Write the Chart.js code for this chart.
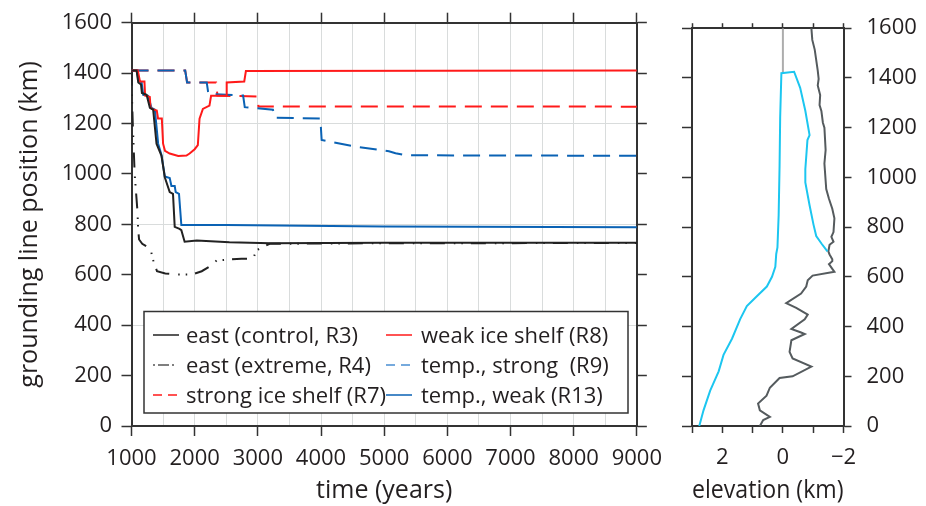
<!DOCTYPE html>
<html>
<head>
<meta charset="utf-8">
<script src="https://cdn.jsdelivr.net/npm/chart.js@4.4.1/dist/chart.umd.min.js"></script>
<style>
  html, body { margin: 0; padding: 0; background: #fff; }
  #wrap { position: relative; width: 926px; height: 506px; overflow: hidden; }
  #mainBox { position: absolute; left: 0; top: 0; }
  #sideBox { position: absolute; left: 672px; top: 0; }
</style>
</head>
<body>
<div id="wrap">
  <div id="mainBox"><canvas id="mainChart" width="672" height="506"></canvas></div>
  <div id="sideBox"><canvas id="sideChart" width="254" height="506"></canvas></div>
</div>
<script>
// ---- left panel: grounding line position (km) vs time (years) ----
const r3Time = [1000, 1080, 1107, 1150, 1165, 1239, 1291, 1343, 1396, 1475, 1527, 1605, 1657, 1684, 1760, 1789, 1841, 2033, 2550, 3200, 5000, 9000];
const r3Pos  = [1410, 1410, 1363, 1355, 1321, 1314, 1262, 1255, 1120, 1072, 987, 928, 921, 790, 782, 777, 731, 736, 729, 725, 727, 727];

const r8Time = [1000, 1100, 1134, 1205, 1215, 1290, 1300, 1320, 1400, 1420, 1480, 1500, 1530, 1605, 1740, 1870, 1920, 2000, 2050, 2077, 2130, 2234, 2260, 2497, 2507, 2785, 2811, 9000];
const r8Pos  = [1410, 1410, 1367, 1367, 1311, 1305, 1265, 1258, 1252, 1220, 1220, 1120, 1092, 1081, 1071, 1073, 1081, 1098, 1114, 1219, 1258, 1271, 1310, 1310, 1363, 1367, 1408, 1410];

const r4Time = [1000, 1008, 1020, 1035, 1050, 1065, 1080, 1095, 1105, 1120, 1170, 1300, 1350, 1404, 1535, 1720, 1955, 2112, 2227, 2348, 2585, 2742, 2925, 2978, 3187, 5000, 9000];
const r4Pos  = [1410, 1300, 1200, 1100, 1000, 950, 900, 850, 780, 740, 723, 703, 651, 614, 605, 601, 601, 614, 631, 657, 661, 664, 664, 697, 723, 725, 726];

const r9Time = [1000, 1850, 1880, 2191, 2217, 2767, 2793, 3239, 3265, 3990, 4010, 4551, 5075, 5180, 5340, 9000];
const r9Pos  = [1410, 1410, 1363, 1363, 1318, 1311, 1265, 1255, 1223, 1220, 1135, 1108, 1090, 1082, 1074, 1072];

const r7Time = [1000, 1850, 1880, 2340, 2360, 2990, 3010, 9000];
const r7Pos  = [1410, 1410, 1363, 1363, 1311, 1307, 1268, 1267];

const r13Time = [1000, 1090, 1107, 1160, 1186, 1264, 1317, 1370, 1422, 1475, 1527, 1605, 1632, 1684, 1700, 1752, 1789, 2500, 5000, 9000];
const r13Pos  = [1410, 1410, 1371, 1363, 1314, 1310, 1262, 1255, 1120, 1075, 990, 984, 952, 952, 928, 921, 797, 797, 791, 788];

// ---- right panel: elevation (km) vs position (km) ----
const iceElev = [2.76, 2.62, 2.40, 2.12, 1.96, 1.68, 1.41, 1.19, 0.86, 0.53, 0.36, 0.25, 0.22, 0.18, 0.14, 0.11, 0.09, 0.05, -0.37, -0.57, -0.74, -0.88, -0.81, -0.74, -0.74, -0.88, -1.01, -1.10, -1.29, -1.47];
const icePos  = [0, 63, 142, 220, 286, 351, 430, 482, 522, 561, 600, 640, 692, 718, 849, 1046, 1242, 1419, 1425, 1360, 1268, 1170, 1150, 1033, 980, 888, 810, 764, 731, 702];

const bedElev = [-0.94, -0.97, -1.05, -1.15, -1.18, -1.15, -1.23, -1.21, -1.27, -1.32, -1.37, -1.41, -1.37, -1.43, -1.52, -1.63, -1.70, -1.67, -1.60, -1.67, -1.54, -1.50, -1.54, -1.63, -1.63, -1.52, -1.70, -0.98, -0.82, -0.77, -0.60, -0.11, -0.44, -0.82, -0.72, -0.28, -0.60, -0.72, -0.28, -0.22, -0.32, -0.94, -0.32, 0.11, 0.43, 0.54, 0.82, 0.76, 0.43, 0.65, 0.76];
const bedPos  = [1600, 1553, 1514, 1429, 1396, 1370, 1331, 1291, 1267, 1220, 1200, 1110, 1056, 953, 914, 874, 835, 780, 761, 741, 729, 702, 690, 671, 663, 651, 620, 605, 586, 561, 533, 494, 475, 448, 429, 390, 376, 370, 345, 298, 272, 239, 200, 193, 154, 122, 90, 63, 37, 24, 0];

const seaElev = [0, 0];
const seaPos  = [1600, 1420];

const INK = '#231f20';
const AXIS = '#333';
const GRID = '#d9dcdc';
Chart.defaults.font.family = "'Open Sans', sans-serif";
Chart.defaults.font.size = 22;
Chart.defaults.color = INK;

const toPoints = (xs, ys) => xs.map((x, i) => ({ x: x, y: ys[i] }));

// legend in a framed box inside the plot, two columns
const boxLegend = {
  id: 'boxLegend',
  afterDatasetsDraw(chart, args, opts) {
    const ctx = chart.ctx;
    ctx.save();
    ctx.fillStyle = '#fff';
    ctx.fillRect(opts.left, opts.top, opts.width, opts.height);
    ctx.strokeStyle = AXIS;
    ctx.lineWidth = 1.5;
    ctx.strokeRect(opts.left, opts.top, opts.width, opts.height);
    ctx.font = "22px 'Open Sans', sans-serif";
    ctx.textBaseline = 'middle';
    chart.data.datasets.forEach((ds, i) => {
      const col = i % 2, row = Math.floor(i / 2);
      const x = opts.left + opts.colX[col];
      const y = opts.top + opts.firstRow + row * opts.rowGap;
      ctx.strokeStyle = ds.legendColor || ds.borderColor;
      ctx.lineWidth = 1.5;
      ctx.setLineDash(ds.legendDash || []);
      ctx.beginPath();
      ctx.moveTo(x, y - 2);
      ctx.lineTo(x + 26, y - 2);
      ctx.stroke();
      ctx.setLineDash([]);
      ctx.fillStyle = INK;
      ctx.fillText(ds.label, x + opts.textGap[col], y);
    });
    ctx.restore();
  }
};

new Chart(document.getElementById('mainChart'), {
  type: 'line',
  plugins: [boxLegend],
  data: {
    datasets: [
      { label: 'east (control, R3)', data: toPoints(r3Time, r3Pos), borderColor: '#222', borderWidth: 2 },
      { label: 'weak ice shelf (R8)', data: toPoints(r8Time, r8Pos), borderColor: '#ff1a1a', borderWidth: 2 },
      { label: 'east (extreme, R4)', data: toPoints(r4Time, r4Pos), borderColor: '#222', borderWidth: 2,
        borderDash: [15, 9, 1.5, 6, 1.5, 8], legendColor: '#555', legendDash: [2, 3, 11, 3, 2, 10] },
      { label: 'temp., strong  (R9)', data: toPoints(r9Time, r9Pos), borderColor: '#0a62b4', borderWidth: 2,
        borderDash: [17, 9], legendColor: '#4a8fd2', legendDash: [9, 6] },
      { label: 'strong ice shelf (R7)', data: toPoints(r7Time, r7Pos), borderColor: '#ff1a1a', borderWidth: 2,
        borderDash: [17, 9], legendDash: [9, 6] },
      { label: 'temp., weak (R13)', data: toPoints(r13Time, r13Pos), borderColor: '#0a62b4', borderWidth: 2 }
    ]
  },
  options: {
    responsive: false,
    animation: false,
    layout: { padding: { top: 19, left: 0, right: 0, bottom: 0 } },
    elements: { point: { radius: 0 }, line: { tension: 0, fill: false } },
    plugins: {
      legend: { display: false },
      tooltip: { enabled: false },
      boxLegend: { left: 144, top: 311.5, width: 484, height: 101.5, colX: [9, 242], textGap: [33, 35], firstRow: 25.5, rowGap: 30 }
    },
    scales: {
      x: {
        type: 'linear', position: 'bottom', min: 1000, max: 9000,
        ticks: { stepSize: 500, autoSkip: false, maxRotation: 0, padding: 10,
          callback: v => (v % 1000 === 0 ? String(v) : '') },
        grid: { color: GRID, lineWidth: 1, tickLength: 10, tickWidth: 1.5,
          tickColor: c => (c.tick && c.tick.value % 1000 === 0 ? AXIS : 'rgba(0,0,0,0)') },
        border: { display: true, color: AXIS, width: 2 },
        title: { display: true, text: 'time (years)', font: { size: 25 }, padding: { top: 0, bottom: 0 } },
        afterFit: s => { s.height = 80; }
      },
      xTop: {
        type: 'linear', position: 'top', min: 1000, max: 9000,
        ticks: { stepSize: 1000, callback: () => '' },
        grid: { drawOnChartArea: false, tickLength: 10, tickWidth: 1.5, tickColor: AXIS },
        border: { display: true, color: AXIS, width: 2 },
        afterFit: s => { s.height = 0; }
      },
      y: {
        position: 'left', min: 0, max: 1600,
        ticks: { stepSize: 200, padding: 9.5, callback: v => String(v) },
        grid: { lineWidth: 1, tickLength: 10, tickWidth: 1.5, tickColor: AXIS,
          color: c => (c.tick && c.tick.value % 400 === 0 ? GRID : 'rgba(0,0,0,0)') },
        border: { display: true, color: AXIS, width: 2 },
        title: { display: true, text: 'grounding line position (km)', font: { size: 25 }, padding: { top: 15, bottom: 0 } },
        afterFit: s => { s.width = 131.5; }
      },
      yRight: {
        position: 'right', min: 0, max: 1600,
        ticks: { stepSize: 200, callback: () => '' },
        grid: { drawOnChartArea: false, tickLength: 10, tickWidth: 1.5, tickColor: AXIS },
        border: { display: true, color: AXIS, width: 2 },
        afterFit: s => { s.width = 32; }
      }
    }
  }
});

new Chart(document.getElementById('sideChart'), {
  type: 'line',
  data: {
    datasets: [
      { data: toPoints(iceElev, icePos), borderColor: '#1cc6f0', borderWidth: 2 },
      { data: toPoints(bedElev, bedPos), borderColor: '#555b5e', borderWidth: 2 },
      { data: toPoints(seaElev, seaPos), borderColor: '#adadad', borderWidth: 2 }
    ]
  },
  options: {
    responsive: false,
    animation: false,
    layout: { padding: { top: 19, left: 0, right: 0, bottom: 0 } },
    elements: { point: { radius: 0 }, line: { tension: 0, fill: false } },
    plugins: { legend: { display: false }, tooltip: { enabled: false } },
    scales: {
      x: {
        type: 'linear', position: 'bottom', min: -2, max: 3, reverse: true,
        ticks: { stepSize: 1, autoSkip: false, maxRotation: 0, padding: 12,
          callback: v => (v % 2 === 0 ? (v < 0 ? '\u2212' + Math.abs(v) : String(v)) : '') },
        grid: { drawOnChartArea: false, tickLength: 7, tickWidth: 1.5, tickColor: AXIS },
        border: { display: true, color: AXIS, width: 2 },
        title: { display: true, text: 'elevation (km)', font: { size: 25 }, padding: { top: 0, bottom: 0 } },
        afterFit: s => { s.height = 80; }
      },
      xTop: {
        type: 'linear', position: 'top', min: -2, max: 3, reverse: true,
        ticks: { stepSize: 1, callback: () => '' },
        grid: { drawOnChartArea: false, tickLength: 5, tickWidth: 1.5, tickColor: AXIS },
        border: { display: true, color: AXIS, width: 2 },
        afterFit: s => { s.height = 0; }
      },
      y: {
        position: 'left', min: 0, max: 1600,
        ticks: { stepSize: 200, callback: () => '' },
        grid: { drawOnChartArea: false, tickLength: 10, tickWidth: 1.5, tickColor: AXIS },
        border: { display: true, color: AXIS, width: 2 },
        afterFit: s => { s.width = 20; }
      },
      yRight: {
        position: 'right', min: 0, max: 1600,
        ticks: { stepSize: 200, padding: 15, callback: v => String(v) },
        grid: { drawOnChartArea: false, tickLength: 8, tickWidth: 1.5, tickColor: AXIS },
        border: { display: true, color: AXIS, width: 2 },
        afterFit: s => { s.width = 82.5; }
      }
    }
  }
});
</script>
</body>
</html>
